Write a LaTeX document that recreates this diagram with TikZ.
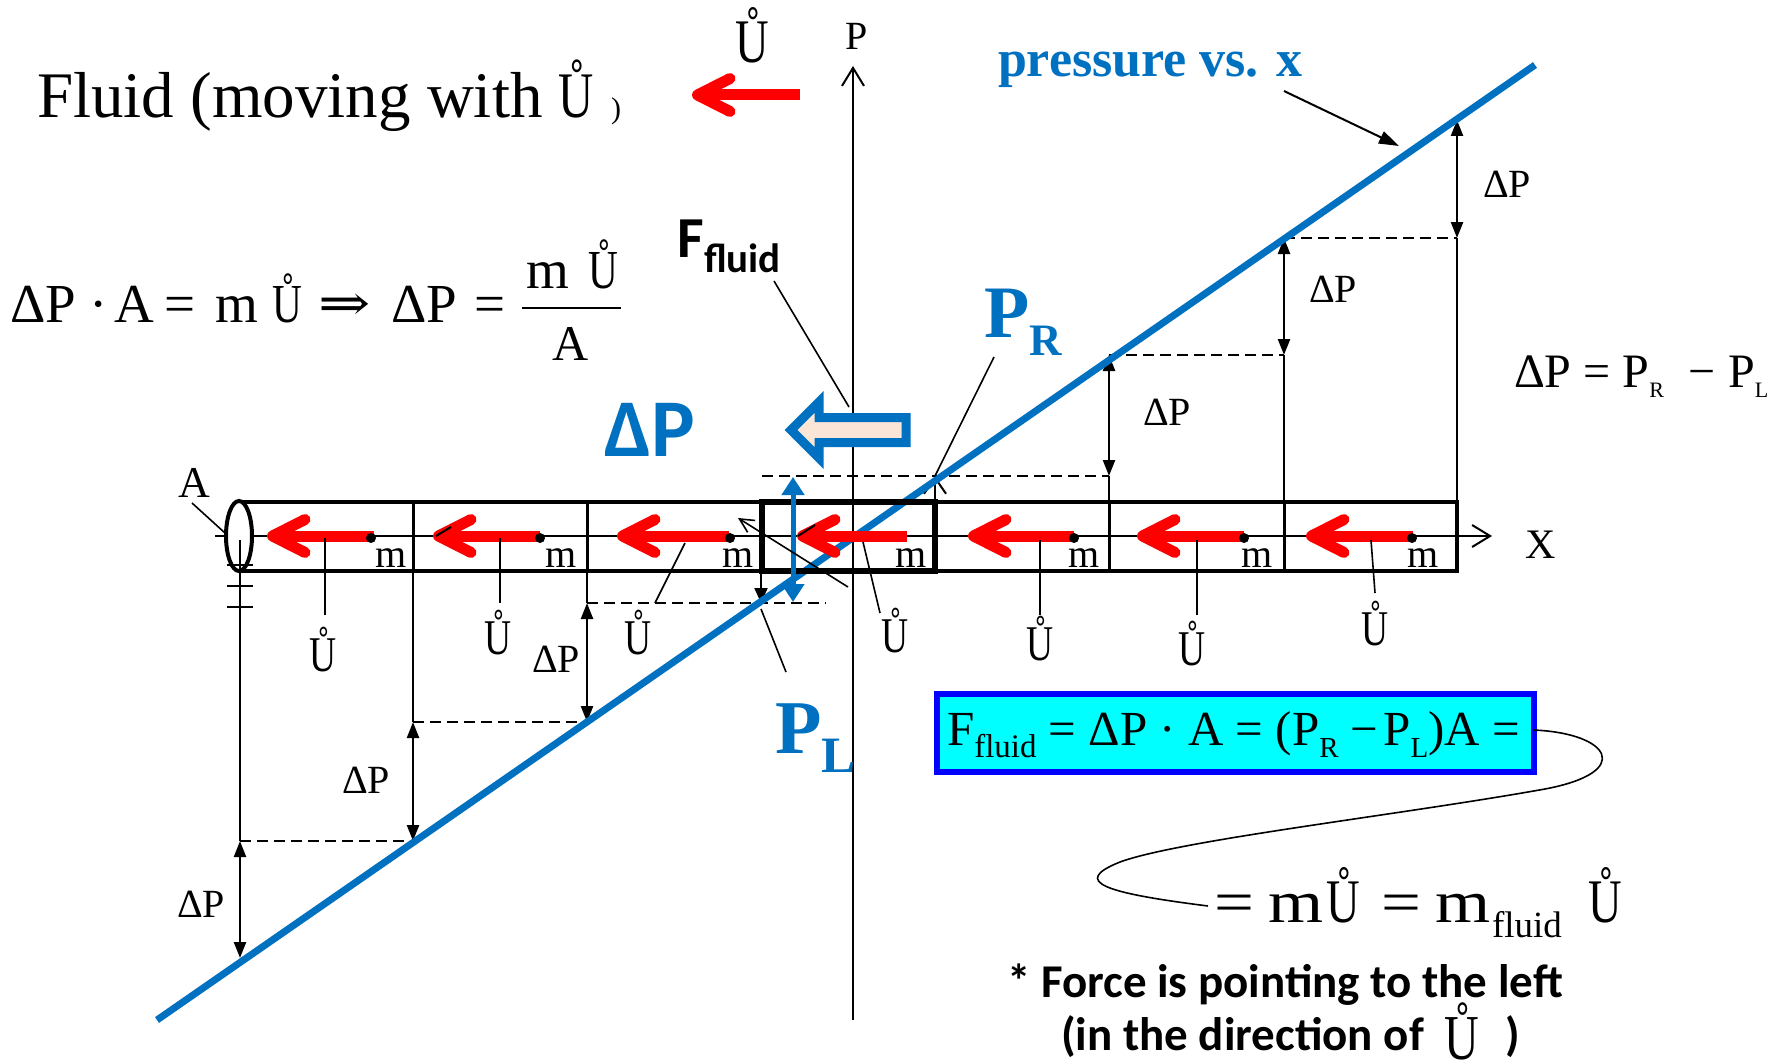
\documentclass[tikz,border=0pt]{standalone}
\usepackage{fontspec}
\usepackage{graphicx}
\setmainfont{Liberation Serif}
\newfontfamily\calib{Carlito}
\newfontfamily\djv{DejaVu Serif}
\usetikzlibrary{arrows.meta}
\definecolor{pblue}{HTML}{0070C0}
\definecolor{peach}{HTML}{FBE5D6}
\definecolor{boxblue}{HTML}{0000FF}
\definecolor{boxcyan}{HTML}{00FFFF}
\newcommand\fs[1]{\fontsize{#1}{#1}\selectfont}
\newcommand\Uring{\scalebox{0.75}[1]{Ů}}
\newcommand\wide[1]{\scalebox{1.18}[1]{#1}}
\newcommand\lowr[3]{\raisebox{-#2pt}{\fs{#1}#3}}
\newcommand\redarr[3]{%
  \draw[redshaft] (#1+5,#3) -- (#2,#3);
  \draw[redhead] (#1+38,#3-16.5) -- (#1+5.5,#3) -- (#1+38,#3+16.5);}
\begin{document}
\begin{tikzpicture}[x=1pt,y=-1pt,
  txt/.style={inner sep=0pt,outer sep=0pt},
  leader/.style={line width=1.6pt},
  vline/.style={line width=2pt},
  dashl/.style={line width=2pt,dash pattern=on 11pt off 6pt},
  dparrow/.style={line width=2.4pt,{Triangle[length=16pt,width=12pt]}-{Triangle[length=16pt,width=12pt]}},
  tube/.style={line width=3.5pt},
  redshaft/.style={red,line width=11pt},
  redhead/.style={red,line width=11pt,line cap=round,line join=round},
  openhead/.style={-{Straight Barb[length=18pt,width=22pt]}},
  mlab/.style={txt,anchor=base,font=\fs{40}},
  ulab/.style={txt,anchor=base,font=\fs{50}},
  dplab/.style={txt,anchor=base,font=\fs{40}},
  eqp/.style={txt,anchor=base west,font=\fs{55}},
  eqq/.style={txt,anchor=base west,font=\fs{60}},
]
\useasboundingbox (0,0) rectangle (1786,1062);
\fill[white] (0,0) rectangle (1786,1062);

% staircase points
\coordinate (s0) at (240,958);
\coordinate (s1) at (413,841);
\coordinate (s2) at (587,722);
\coordinate (s3) at (761,603);
\coordinate (s4) at (935,476);
\coordinate (s5) at (1109,355);
\coordinate (s6) at (1284,238);
\coordinate (s7) at (1457,120);

% dashed levels
\draw[dashl] (240,841) -- (s1);
\draw[dashl] (413,722) -- (s2);
\draw[dashl] (587,603) -- (826,603);
\draw[dashl] (762,476) -- (1109,476);
\draw[dashl] (s5) -- (1284,355);
\draw[dashl] (s6) -- (1457,238);

% verticals
\draw[vline] (413,571) -- (413,722);
\draw[vline] (587,571) -- (587,603);
\draw[vline] (1109,502) -- (1109,476);
\draw[vline] (1284,502) -- (1284,355);
\draw[vline] (1457,502) -- (1457,238);

% delta P arrows
\draw[dparrow] (240,841) -- (s0);
\draw[dparrow] (413,722) -- (s1);
\draw[dparrow] (587,603) -- (s2);
\draw[dparrow] (1109,476) -- (s5);
\draw[dparrow] (1284,355) -- (s6);
\draw[dparrow] (1457,238) -- (s7);
\draw[line width=2pt,-{Triangle[length=15pt,width=13pt]}] (761,572) -- (s3);
\draw[line width=2pt,-{Straight Barb[length=16pt,width=22pt]}] (935,502) -- (s4);

% axes
\coordinate (ptop) at (853,66);
\coordinate (xend) at (1492,536);
\draw[line width=2pt,openhead] (853,1020) -- (ptop);
\draw[line width=2pt,openhead] (215,536) -- (xend);

% tube
\draw[tube] (239,502) -- (1457,502) -- (1457,571) -- (239,571);
\foreach \x in {413,587,1109,1284} \draw[line width=3pt] (\x,502) -- (\x,571);
\draw[line width=4pt,fill=white] (239,536) ellipse [x radius=13, y radius=35];
\draw[leader] (240,540) -- (240,841);
\foreach \y in {565,586,607} \draw[line width=1.8pt] (227,\y) -- (253,\y);

% pressure line
\draw[pblue,line width=7pt] (157,1020) -- (1535,65);

% red arrows in tube
\redarr{267}{374}{536}
\redarr{433}{540}{536}
\redarr{617}{729}{536}
\redarr{797}{907}{536}
\redarr{968}{1074}{536}
\redarr{1137}{1244}{536}
\redarr{1306}{1413}{536}
\foreach \x in {371,540,730,1074,1244,1412} \fill (\x,538) circle (5);
\draw[line width=2pt] (436,536) -- (451,527);
\draw[line width=2pt] (798,536) -- (815,525);

% bold element box
\draw[line width=5.5pt] (762,502) rectangle (935,571);
\draw[pblue,line width=5pt,{Triangle[length=18pt,width=22pt]}-{Triangle[length=18pt,width=22pt]}] (793,602) -- (793,477);

% hollow force arrow
\draw[pblue,line width=9pt,fill=peach] (791,430) -- (819,402) -- (819,417.5) -- (906,417.5) -- (906,442.5) -- (819,442.5) -- (819,458) -- cycle;

% diagonal arrow in element
\draw[leader,-{Straight Barb[length=14pt,width=14pt]}] (848,587) -- (738,518);

% title
\node[txt,anchor=base west,font=\fs{65}] (title) at (37,118) {Fluid (moving with \Uring};
\node[txt,anchor=base west,font=\fs{30}] (titlep) at (611,119) {)};
\node[txt,anchor=base,font=\fs{62}] (utop) at (752,63) {\Uring};
\redarr{692}{800}{95}

% axis labels
\node[txt,anchor=base,font=\fs{40}] (plab) at (857,50) {P};
\node[txt,anchor=base west,font=\fs{42}] (xlab) at (1525,558) {X};

% left equation
\node[eqp] (eq1) at (10,322) {ΔP};
\node[eqp] (eq2) at (89,322) {·};
\node[eqp] (eq3) at (114,322) {A};
\node[eqp] (eq4) at (164,322) {=};
\node[eqp] (eq5) at (215,322) {m};
\node[eqp] (eq6) at (272,322) {\Uring};
\node[txt,anchor=base west,font=\djv\fs{50}] (eq7) at (318,320) {\scalebox{1.25}[1]{⇒}};
\node[eqp] (eq8) at (391,322) {ΔP};
\node[eqp] (eq9) at (474,322) {=};
\node[eqp] (eqnum) at (526,288) {m\hspace{20pt}\Uring};
\draw[line width=2.5pt] (522,308) -- (621,308);
\node[txt,anchor=base,font=\fs{50}] (eqden) at (571,360) {A};

% F fluid
\node[txt,anchor=base west,font=\calib\bfseries\fs{58}] (ff) at (677,257) {F};
\node[txt,anchor=base west,font=\calib\bfseries\fs{41}] (ffs) at (704,272) {fluid};
\draw[leader] (774,281) -- (849,407);

% blue delta P
\node[txt,anchor=base west,font=\calib\bfseries\fs{82},text=pblue] (dpbig) at (604,456) {ΔP};

% P_R, P_L
\node[txt,anchor=base west,font=\bfseries\fs{74},text=pblue] (pr) at (984,337) {P};
\node[txt,anchor=base west,font=\bfseries\fs{45},text=pblue] (prs) at (1029,355) {R};
\draw[leader] (994,357) -- (s4);
\node[txt,anchor=base west,font=\bfseries\fs{76},text=pblue] (pl) at (775,753) {P};
\node[txt,anchor=base west,font=\bfseries\fs{51},text=pblue] (pls) at (821,772) {L};
\draw[leader] (761,609) -- (786,672);

% pressure label
\node[txt,anchor=base west,font=\bfseries\fs{52},text=pblue] (plbl) at (998,77) {pressure vs. x};
\draw[line width=2pt,-{Triangle[length=20pt,width=13pt]}] (1284,91) -- (1399,146);

% A label
\node[txt,anchor=base,font=\fs{44}] (alab) at (194,497) {A};
\draw[leader] (192,503) -- (225,533);

% m labels
\foreach \x in {391,561,738,911,1084,1257,1423} \node[mlab] at (\x,567) {m};

% U labels and leaders
\draw[leader] (325,538) -- (325,615);
\draw[leader] (500,538) -- (500,603);
\draw[leader] (685,543) -- (655,603);
\draw[leader] (863,542) -- (880,613);
\draw[leader] (1040,540) -- (1040,615);
\draw[leader] (1197,540) -- (1197,615);
\draw[leader] (1371,540) -- (1375,593);
\node[ulab] (u1) at (323,671) {\Uring};
\node[ulab] (u2) at (498,654) {\Uring};
\node[ulab] (u3) at (638,654) {\Uring};
\node[ulab] (u4) at (895,652) {\Uring};
\node[ulab] (u5) at (1040,660) {\Uring};
\node[ulab] (u6) at (1192,665) {\Uring};
\node[ulab] (u7) at (1375,645) {\Uring};

% delta P labels
\node[dplab] (d0) at (201,917) {ΔP};
\node[dplab] (d1) at (366,793) {ΔP};
\node[dplab] (d2) at (556,672) {ΔP};
\node[dplab] (d5) at (1167,425) {ΔP};
\node[dplab] (d6) at (1333,302) {ΔP};
\node[dplab] (d7) at (1507,197) {ΔP};

% right equation
\node[txt,anchor=base west,font=\fs{48}] (dpeq) at (1514,387) {ΔP = P\lowr{22}{10}{R}\hspace{24pt}−\hspace{13pt}P\lowr{22}{10}{L}};

% F fluid box
\draw[line width=6pt,draw=boxblue,fill=boxcyan] (937,694) rectangle (1534,772);
\node[txt,anchor=base west,font=\fs{49}] (boxeq) at (947,745) {F\lowr{33}{12}{fluid} = ΔP · A = (P\lowr{29}{12}{R}\hspace{12pt}−\hspace{5pt}P\lowr{29}{12}{L})A =};
\coordinate (cstart) at (1533,730);
\coordinate (cend) at (1208,906);
\draw[leader] (cstart) .. controls (1610,733) and (1635,772) .. (1545,789) .. controls (1400,815) and (1180,840) .. (1120,862) .. controls (1070,882) and (1105,893) .. (cend);

\node[eqq] (e2a) at (1214,922) {\wide{=}};
\node[eqq] (e2m) at (1268,922) {\wide{m}};
\node[txt,anchor=base,font=\fs{62}] (e2b) at (1343,922) {\Uring};
\node[eqq] (e2c) at (1381,922) {\wide{=}};
\node[eqq] (e2n) at (1435,922) {\wide{m}};
\node[txt,anchor=base west,font=\fs{37}] (e2d) at (1492,937) {fluid};
\node[txt,anchor=base,font=\fs{62}] (e2e) at (1605,922) {\Uring};

% note
\node[txt,anchor=base west,font=\calib\bfseries\fs{47}] (n1) at (1007,997) {* Force is pointing to the left};
\node[txt,anchor=base west,font=\calib\bfseries\fs{47}] (n2) at (1061,1050) {(in the direction of};
\node[txt,anchor=base,font=\fs{64}] (n2u) at (1462,1059) {\Uring};
\node[txt,anchor=base west,font=\calib\bfseries\fs{47}] (n2p) at (1505,1050) {)};
\end{tikzpicture}
\end{document}
